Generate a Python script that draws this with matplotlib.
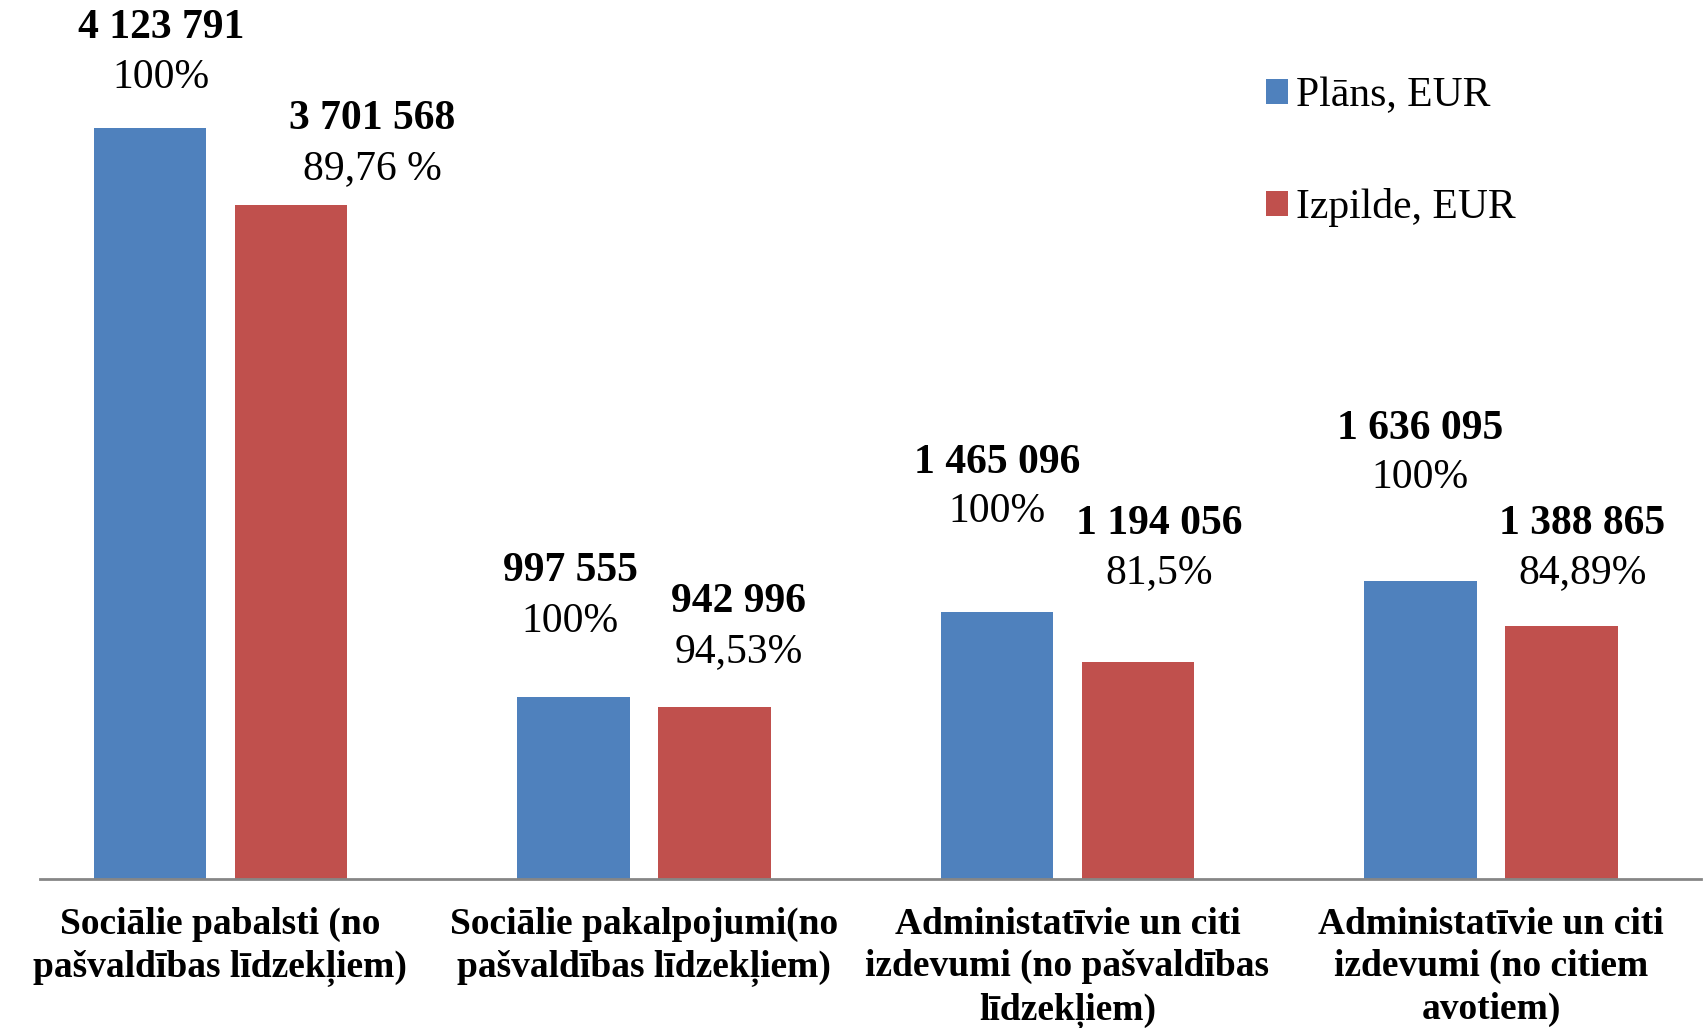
import matplotlib.pyplot as plt
import numpy as np

# Category labels and values
categories = [
    "Sociālie pabalsti (no\npašvaldības līdzekļiem)",
    "Sociālie pakalpojumi(no\npašvaldības līdzekļiem)",
    "Administatīvie un citi\nizdevumi (no pašvaldības\nlīdzekļiem)",
    "Administatīvie un citi\nizdevumi (no citiem\navotiem)",
]
plan_values = [4123791, 997555, 1465096, 1636095]
actual_values = [3701568, 942996, 1194056, 1388865]
plan_pct = ["100%", "100%", "100%", "100%"]
actual_pct = ["89,76 %", "94,53%", "81,5%", "84,89%"]
series_names = ["Plāns, EUR", "Izpilde, EUR"]

# label placement (pixels above bar top: bold line, percent line; horizontal shift)
plan_label_off = [(11, 100, 50), (-3, 126, 76), (0, 149, 100), (0, 152, 103)]
actual_label_off = [(81, 86, 36), (24, 105, 55), (21, 138, 89), (21, 102, 53)]

BLUE = "#4F81BD"
RED = "#C0504D"
SERIF = ["Liberation Serif", "DejaVu Serif"]

W, H = 1708, 1028
fig = plt.figure(figsize=(W / 100, H / 100), dpi=100)
# axes: left 40px, right 1701px, bottom at y=879px, top at y=0
ax = fig.add_axes([40 / W, (H - 879) / H, (1701 - 40) / W, 879 / H])

x = np.arange(len(categories))
bw = 0.265
off = 0.1665
b1 = ax.bar(x - off, plan_values, bw, color=BLUE, label=series_names[0])
b2 = ax.bar(x + off, actual_values, bw, color=RED, label=series_names[1])

ax.set_xlim(-0.426, 3.496)
ax.set_ylim(0, 879 / (751 / 4123791))


def fmt(v):
    return f"{v:,}".replace(",", " ")


for bars, vals, pcts, offs in [(b1, plan_values, plan_pct, plan_label_off),
                                (b2, actual_values, actual_pct, actual_label_off)]:
    for rect, v, p, (dx, dy_b, dy_p) in zip(bars, vals, pcts, offs):
        cx = rect.get_x() + rect.get_width() / 2
        top = rect.get_height()
        ax.annotate(fmt(v), (cx, top), xytext=(dx, dy_b), textcoords="offset pixels",
                    ha="center", va="center", fontsize=30, fontweight="bold",
                    family=SERIF, annotation_clip=False)
        ax.annotate(p, (cx, top), xytext=(dx, dy_p), textcoords="offset pixels",
                    ha="center", va="center", fontsize=30,
                    family=SERIF, annotation_clip=False)

ax.set_xticks(x)
ax.set_xticklabels(categories, fontsize=27, fontweight="bold", family=SERIF,
                   linespacing=1.28, va="top")
ax.tick_params(axis="x", length=0, pad=20)
ax.set_yticks([])

for s in ["left", "right", "top"]:
    ax.spines[s].set_visible(False)
ax.spines["bottom"].set_color("#868686")
ax.spines["bottom"].set_linewidth(2)

leg = ax.legend(loc="upper left", bbox_to_anchor=(1266 / W, 1 - 77 / H),
                bbox_transform=fig.transFigure, frameon=False,
                prop={"family": SERIF, "size": 30},
                handlelength=0.53, handleheight=0.53, handletextpad=0.2,
                labelspacing=1.75, borderpad=0, borderaxespad=0)

fig.savefig("out.png", dpi=100)
